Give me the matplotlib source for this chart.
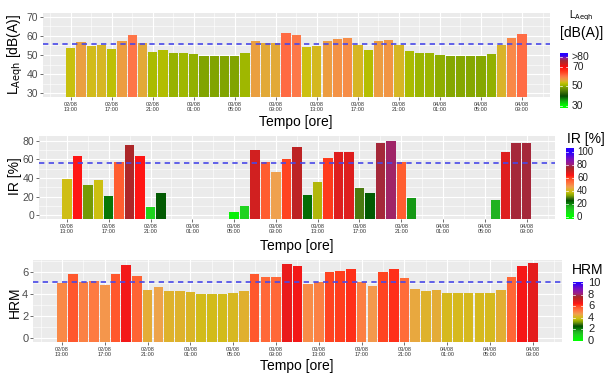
import numpy as np
import matplotlib
matplotlib.use("Agg")
import matplotlib.pyplot as plt
from matplotlib.colors import LinearSegmentedColormap, Normalize

plt.rcParams['font.family'] = ['Liberation Sans', 'DejaVu Sans']

# ---------------- data ----------------
hours = list(range(45))  # hourly, 02/08 13:00 .. 04/08 09:00
tick_pos = list(range(0, 45, 4))
tick_labels = ["02/08\n13:00", "02/08\n17:00", "02/08\n21:00", "03/08\n01:00",
               "03/08\n05:00", "03/08\n09:00", "03/08\n13:00", "03/08\n17:00",
               "03/08\n21:00", "04/08\n01:00", "04/08\n05:00", "04/08\n09:00"]

laeq = [53.8, 57.0, 54.5, 55.0, 53.2, 57.2, 60.7, 56.2, 51.8, 52.4, 50.8, 51.2,
        50.6, 49.6, 49.6, 49.6, 49.6, 51.1, 57.1, 56.1, 56.1, 61.5, 60.4,
        54.1, 54.7, 57.4, 58.3, 58.8, 55.0, 52.6, 57.4, 58.1, 55.0, 51.9,
        51.0, 51.0, 50.2, 49.7, 49.7, 49.7, 49.7, 50.5, 55.3, 59.1, 61.2]

ir = [39, 64, 32, 38, 21, 57, 75, 64, 9, 24, None, None, None, None, None, None,
      3.5, 9.5, 70, 57, 46, 60, 73, 22, 36, 61, 68, 68, 29, 24, 77, 80, 57, 18,
      None, None, None, None, None, None, None, 16, 68, 77, 77]

hrm = [4.96, 5.76, 5.05, 5.17, 4.75, 5.76, 6.56, 5.58, 4.34, 4.57, 4.25, 4.25,
       4.16, 3.95, 3.95, 3.95, 4.07, 4.28, 5.76, 5.49, 5.49, 6.65, 6.53,
       4.9, 5.05, 6.0, 6.09, 6.2, 5.1, 4.7, 6.0, 6.2, 5.4, 4.45, 4.25, 4.37,
       4.04, 4.04, 4.04, 4.04, 4.04, 4.3, 5.52, 6.5, 6.74]

thr_laeq, thr_ir, thr_hrm = 55.8, 55.7, 5.1

# ---------------- colour scales ----------------
laeq_nodes = [(30, '#00FF00'), (35, '#10B010'), (40, '#0A4A05'), (45, '#4A7808'),
              (49.5, '#80A400'), (51, '#9CB600'), (52.5, '#B4BE00'), (54, '#CCC010'),
              (55.5, '#DCB030'), (57, '#EAA040'), (59, '#F88A48'), (61, '#FF7048'),
              (65, '#FF4020'), (70, '#FF0A0A'), (74, '#C02222'), (77, '#A02838'),
              (79, '#9A2090'), (82, '#2800FF'), (90, '#2800FF')]
pct_nodes = [(0.00, '#00FF00'), (0.10, '#20D020'), (0.16, '#20B020'), (0.20, '#088008'),
             (0.25, '#005000'), (0.29, '#4A7A10'), (0.33, '#88A800'), (0.38, '#CCC010'),
             (0.42, '#DCB428'), (0.46, '#F0A050'), (0.52, '#FF7840'), (0.57, '#FF5C30'),
             (0.61, '#FF3C1C'), (0.64, '#FF1414'), (0.68, '#E01E1E'), (0.72, '#C42222'),
             (0.76, '#A8282A'), (0.79, '#A02850'), (0.81, '#A0207E'), (0.90, '#7A10C0'),
             (1.00, '#2800FF')]


def make_cmap(nodes, vmin, vmax):
    pos = [(v - vmin) / (vmax - vmin) for v, _ in nodes]
    cm = LinearSegmentedColormap.from_list('c', list(zip(pos, [c for _, c in nodes])))
    return cm, Normalize(vmin, vmax, clip=True)


cm_laeq, nm_laeq = make_cmap(laeq_nodes, 30, 90)
cm_ir, nm_ir = make_cmap([(p * 100, c) for p, c in pct_nodes], 0, 100)
cm_hrm, nm_hrm = make_cmap([(p * 10, c) for p, c in pct_nodes], 0, 10)

# ---------------- layout helpers ----------------
W, H = 606, 374
fig = plt.figure(figsize=(W / 100, H / 100), dpi=100)


def rect(x0, y0, x1, y1):
    return [x0 / W, 1 - y1 / H, (x1 - x0) / W, (y1 - y0) / H]


XLIM = (-2.695, 46.695)


def panel(r, vals, cmap, norm, ylim, yticks, yminor, thr, ylabel, ylab_xy, xlab_xy, ytick_fs):
    ax = fig.add_axes(rect(*r))
    ax.set_facecolor('#EBEBEB')
    for s in ax.spines.values():
        s.set_visible(False)
    ax.set_xlim(*XLIM)
    ax.set_ylim(*ylim)
    # grid
    for y in yminor:
        ax.axhline(y, color='white', lw=0.4, zorder=0)
    for y in yticks:
        ax.axhline(y, color='white', lw=0.8, zorder=0)
    for x in range(-2, 47, 4):
        ax.axvline(x, color='white', lw=0.4, zorder=0)
    for x in tick_pos:
        ax.axvline(x, color='white', lw=0.8, zorder=0)
    xs = [h for h, v in zip(hours, vals) if v is not None]
    vs = [v for v in vals if v is not None]
    ax.bar(xs, [v - ylim[0] + 1 for v in vs], bottom=ylim[0] - 1, width=0.9,
           color=[cmap(norm(v)) for v in vs], zorder=2, linewidth=0)
    ax.axhline(thr, color='#4848E8', lw=1.2, linestyle=(0, (3.2, 2.6)), zorder=3)
    ax.set_xticks(tick_pos)
    ax.set_xticklabels(tick_labels, fontsize=4, color='#333333', linespacing=1.0)
    ax.set_yticks(yticks)
    ax.set_yticklabels([str(t) for t in yticks], fontsize=ytick_fs, color='#4D4D4D')
    ax.tick_params(axis='both', length=2, width=0.5, color='#333333', pad=1.5)
    fig.text(ylab_xy[0] / W, 1 - ylab_xy[1] / H, ylabel, rotation=90, fontsize=10,
             ha='center', va='center')
    fig.text(xlab_xy[0] / W, 1 - xlab_xy[1] / H, 'Tempo [ore]', fontsize=10,
             ha='center', va='center')
    return ax


def colorbar(r, cmap, norm, rng, ticks, labels, lab_x, fs):
    ax = fig.add_axes(rect(*r))
    g = np.linspace(rng[0], rng[1], 300)
    ax.imshow(cmap(norm(g))[:, None, :], aspect='auto', origin='lower',
              extent=[0, 1, rng[0], rng[1]])
    ax.set_xlim(0, 1)
    ax.set_ylim(*rng)
    ax.axis('off')
    for t in ticks:
        ax.plot([0, 0.2], [t, t], color='white', lw=0.5)
        ax.plot([0.8, 1], [t, t], color='white', lw=0.5)
    y0, y1 = r[1], r[3]
    for t, lab in zip(ticks, labels):
        ypx = y1 - (t - rng[0]) / (rng[1] - rng[0]) * (y1 - y0)
        fig.text(lab_x / W, 1 - ypx / H, lab, fontsize=fs, ha='left', va='center',
                 color='#222222')


# top panel
panel((43, 13, 549.7, 97), laeq, cm_laeq, nm_laeq, (28, 72), [30, 40, 50, 60, 70],
      [35, 45, 55, 65], thr_laeq, r'L$_{\mathrm{Aeqh}}$ [dB(A)]', (15, 54), (296, 122), 7.5)
colorbar((560, 53, 568, 108), cm_laeq, nm_laeq, (27.9, 84.4), [80, 70, 50, 30],
         ['>80', '70', '50', '30'], 572, 7.5)
fig.text(581.5 / W, 1 - 16 / H, r'L$_{\mathrm{Aeqh}}$', fontsize=7, ha='center', va='center')
fig.text(581.5 / W, 1 - 33 / H, '[dB(A)]', fontsize=10, ha='center', va='center')

# middle panel
panel((38.8, 136, 554.8, 219), ir, cm_ir, nm_ir, (-4, 85), [0, 20, 40, 60, 80],
      [10, 30, 50, 70], thr_ir, 'IR [%]', (15, 176), (297, 246), 7.5)
colorbar((566, 148, 574, 219), cm_ir, nm_ir, (-3.6, 106.6), [100, 80, 60, 40, 20, 0],
         ['100', '80', '60', '40', '20', '0'], 577, 7)
fig.text(585.5 / W, 1 - 139 / H, 'IR [%]', fontsize=10, ha='center', va='center')

# bottom panel
panel((33.2, 260, 561.7, 341.7), hrm, cm_hrm, nm_hrm, (-0.34, 7.05), [0, 2, 4, 6],
      [1, 3, 5, 7], thr_hrm, 'HRM', (15, 302), (297, 366), 8)
colorbar((573, 281.5, 583, 341), cm_hrm, nm_hrm, (-0.05, 10.3), [10, 8, 6, 4, 2, 0],
         ['10', '8', '6', '4', '2', '0'], 588, 8)
fig.text(588 / W, 1 - 270 / H, 'HRM', fontsize=10, ha='center', va='center')

fig.savefig('out.png', dpi=100, facecolor='white')
